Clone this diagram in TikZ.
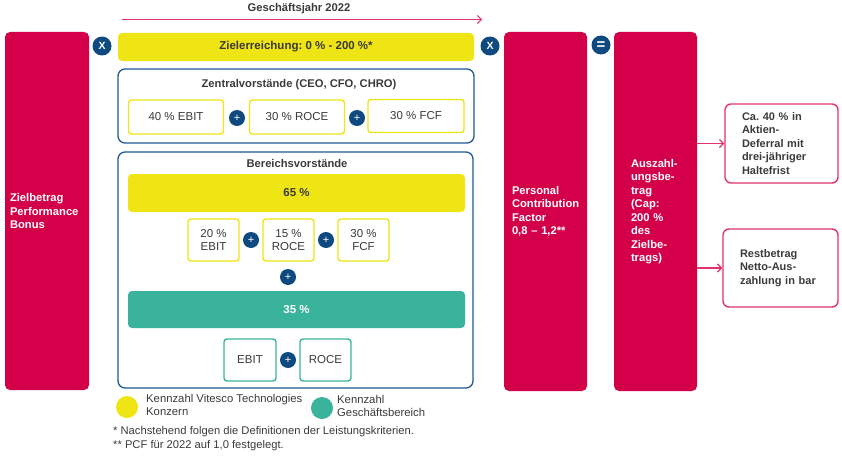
\documentclass[tikz,border=0pt]{standalone}
\usepackage{fontspec}
\setmainfont{Liberation Sans}
\usetikzlibrary{arrows.meta}
\frenchspacing
\definecolor{crim}{HTML}{D30049}
\definecolor{yel}{HTML}{EFE514}
\definecolor{teal2}{HTML}{3AB39D}
\definecolor{dblue}{HTML}{0E4A80}
\definecolor{bblue}{HTML}{1F5A92}
\definecolor{pinkb}{HTML}{E0346A}
\definecolor{txt}{HTML}{3A3A3A}
\tikzset{
  redcol/.style={fill=crim, rounded corners=5pt, text=white, font=\fontsize{11.2}{13.5}\selectfont\bfseries, align=left, anchor=center},
  bar/.style={rounded corners=4pt, font=\fontsize{11.5}{13}\selectfont\bfseries, text=txt, anchor=center, inner sep=0pt},
  framebox/.style={draw=bblue, line width=1.3pt, rounded corners=7pt, anchor=center, inner sep=0pt},
  ybox/.style={draw=yel, line width=1.4pt, fill=white, rounded corners=3pt, font=\fontsize{11.5}{13}\selectfont, text=txt, align=center, anchor=center, inner sep=0pt},
  tbox/.style={draw=teal2, line width=1.4pt, fill=white, rounded corners=3pt, font=\fontsize{11.5}{13}\selectfont, text=txt, align=center, anchor=center, inner sep=0pt},
  op/.style={circle, fill=dblue, text=white, inner sep=0pt, font=\fontsize{10.5}{10.5}\selectfont\bfseries},
  plusop/.style={circle, fill=dblue, text=white, inner sep=0pt, minimum size=16pt, font=\fontsize{11}{11}\selectfont},
  ttl/.style={font=\fontsize{11.2}{13}\selectfont\bfseries, text=txt, inner sep=0pt},
  pbox/.style={draw=pinkb, line width=1.4pt, rounded corners=6pt, fill=white, text=txt, font=\fontsize{11}{13.5}\selectfont\bfseries, align=left, anchor=center, inner ysep=0pt},
  pinkarrow/.style={draw=pinkb, line width=1.2pt, -{Straight Barb[length=4pt,width=8pt]}},
  legtxt/.style={font=\fontsize{11.3}{13.5}\selectfont, text=txt, align=left, anchor=north west, inner sep=0pt},
  foot/.style={font=\fontsize{11.2}{13}\selectfont, text=txt, anchor=west, inner sep=0pt},
}
\begin{document}
\begin{tikzpicture}[x=1pt,y=-1pt]
\useasboundingbox (0,0) rectangle (842,460);
% timeline
\coordinate (ts) at (122,19.5);
\coordinate (te) at (482,19.5);
\draw[draw=pinkb, line width=1pt, -{Straight Barb[length=4pt,width=8pt]}] (ts) -- (te);
\node[ttl] (gj) at (299,9) {Geschäftsjahr 2022};
% left red box
\node[redcol, minimum width=84pt, minimum height=358pt, text width=74pt, inner xsep=5pt] (zb) at (47,211) {Zielbetrag\\Performance\\Bonus};
\node[op, minimum size=19pt] (x1) at (102,46) {X};
% yellow bar
\node[bar, fill=yel, minimum width=356pt, minimum height=28pt] (ze) at (296,47) {Zielerreichung: 0 \% - 200 \%*};
\node[op, minimum size=19pt] (x2) at (490,46) {X};
% Zentralvorstaende
\node[framebox, minimum width=356pt, minimum height=74pt] (zv) at (296,106) {};
\node[ttl] (zvt) at (299,85) {Zentralvorstände (CEO, CFO, CHRO)};
\node[ybox, minimum width=95pt, minimum height=34pt] (e1) at (176,117) {40 \% EBIT};
\node[ybox, minimum width=95pt, minimum height=34pt] (r1) at (297,117) {30 \% ROCE};
\node[ybox, minimum width=96pt, minimum height=33pt] (f1) at (416,116) {30 \% FCF};
\node[plusop] (p1) at (237,118) {+};
\node[plusop] (p2) at (357,118) {+};
% Bereichsvorstaende
\node[framebox, minimum width=355pt, minimum height=236pt] (bv) at (295.5,270) {};
\node[ttl] (bvt) at (297,163) {Bereichsvorstände};
\node[bar, fill=yel, minimum width=337pt, minimum height=38pt] (b65) at (296.5,193) {65 \%};
\node[ybox, minimum width=51pt, minimum height=42pt] (e2) at (213.5,240) {20 \%\\EBIT};
\node[ybox, minimum width=51pt, minimum height=42pt] (r2) at (288.5,240) {15 \%\\ROCE};
\node[ybox, minimum width=51pt, minimum height=42pt] (f2) at (363.5,240) {30 \%\\FCF};
\node[plusop] (p3) at (251,240) {+};
\node[plusop] (p4) at (326,240) {+};
\node[plusop] (p5) at (288,277) {+};
\node[bar, fill=teal2, text=white, minimum width=337pt, minimum height=37pt] (b35) at (296.5,309.5) {35 \%};
\node[tbox, minimum width=52pt, minimum height=42pt] (e3) at (250,360) {EBIT};
\node[tbox, minimum width=51pt, minimum height=42pt] (r3) at (325.5,360) {ROCE};
\node[plusop] (p6) at (288,360) {+};
% legend
\node[circle, fill=yel, minimum size=22pt, inner sep=0pt] (ly) at (127,407) {};
\node[legtxt] (lyt) at (146,394) {Kennzahl Vitesco Technologies\\Konzern};
\node[circle, fill=teal2, minimum size=22pt, inner sep=0pt] (lt) at (322,408) {};
\node[legtxt] (ltt) at (337,395) {Kennzahl\\Geschäftsbereich};
\node[foot] (fn1) at (113,432) {* Nachstehend folgen die Definitionen der Leistungskriterien.};
\node[foot] (fn2) at (113,446) {** PCF für 2022 auf 1,0 festgelegt.};
% PCF
\node[redcol, minimum width=83pt, minimum height=359pt, text width=67pt, inner xsep=8pt] (pcf) at (545.5,211.5) {Personal\\Contribution\\Factor\\0,8 – 1,2**};
\node[op, minimum size=19pt, font=\fontsize{15}{15}\selectfont\bfseries] (eq) at (601,45) {\raisebox{-4.8pt}[0pt][0pt]{=}};
% Auszahlung
\node[redcol, minimum width=83pt, minimum height=359pt, text width=49pt, inner xsep=17pt] (aus) at (655.5,211.5) {Auszahl-\\ungsbe-\\trag\\(Cap:\\200 \%\\des\\Zielbe-\\trags)};
% right boxes
\node[pbox, minimum width=113pt, minimum height=79pt, text width=79pt, inner xsep=17pt] (ca) at (781.5,143.5) {Ca. 40 \% in\\Aktien-\\Deferral mit\\drei-jähriger\\Haltefrist};
\node[pbox, minimum width=115pt, minimum height=78pt, text width=81pt, inner xsep=17pt] (rest) at (780.5,268) {Restbetrag\\Netto-Aus-\\zahlung in bar};
\draw[pinkarrow] (aus.east |- ca.west) -- (ca.west);
\draw[pinkarrow] (aus.east |- rest.west) -- (rest.west);
\end{tikzpicture}
\end{document}
